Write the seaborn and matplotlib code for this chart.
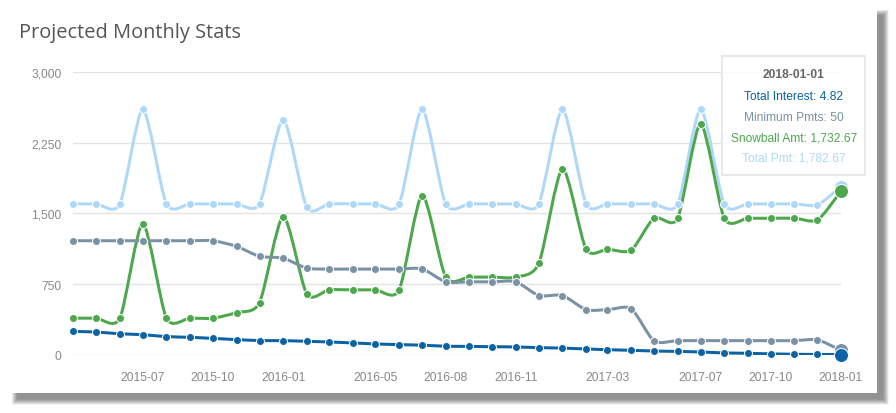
import numpy as np
import pandas as pd
import matplotlib
matplotlib.use("Agg")
import matplotlib.pyplot as plt
import matplotlib.dates as mdates
from matplotlib.path import Path
from matplotlib.patches import PathPatch, Rectangle
import seaborn as sns

# ---------------- data ----------------
months = ["2015-04-01", "2015-05-01", "2015-06-01", "2015-07-01", "2015-08-01", "2015-09-01",
          "2015-10-01", "2015-11-01", "2015-12-01", "2016-01-01", "2016-02-01", "2016-03-01",
          "2016-04-01", "2016-05-01", "2016-06-01", "2016-07-01", "2016-08-01", "2016-09-01",
          "2016-10-01", "2016-11-01", "2016-12-01", "2017-01-01", "2017-02-01", "2017-03-01",
          "2017-04-01", "2017-05-01", "2017-06-01", "2017-07-01", "2017-08-01", "2017-09-01",
          "2017-10-01", "2017-11-01", "2017-12-01", "2018-01-01"]
total_interest = [250, 243, 225, 215, 195, 187, 176, 163, 153, 152, 145, 138, 128, 117, 110, 104, 93,
                  91, 88, 85, 78, 73, 64, 56, 50, 42, 38, 32, 22, 18, 12, 8, 6, 4.82]
minimum_pmts = [1210, 1210, 1210, 1210, 1210, 1210, 1210, 1150, 1045, 1025, 920, 910, 910, 910, 910,
                912, 775, 775, 775, 775, 630, 630, 480, 480, 490, 150, 152, 152, 152, 152, 152, 152,
                160, 50]
snowball_amt = [390, 390, 390, 1390, 390, 390, 390, 450, 555, 1465, 645, 690, 690, 690, 690, 1688,
                825, 825, 825, 825, 970, 1970, 1120, 1120, 1110, 1450, 1448, 2448, 1448, 1448, 1448,
                1448, 1430, 1732.67]
total_pmt = [1600, 1600, 1600, 2600, 1600, 1600, 1600, 1600, 1600, 2490, 1565, 1600, 1600, 1600,
             1600, 2600, 1600, 1600, 1600, 1600, 1600, 2600, 1600, 1600, 1600, 1600, 1600, 2600,
             1600, 1600, 1600, 1600, 1590, 1782.67]
series_names = ["Total Interest", "Minimum Pmts", "Snowball Amt", "Total Pmt"]
series_colors = ["#0b62a4", "#7a92a3", "#4da74d", "#afd8f8"]
x_tick_labels = ["2015-07", "2015-10", "2016-01", "2016-05", "2016-08", "2016-11",
                 "2017-03", "2017-07", "2017-10", "2018-01"]
y_ticks = [0, 750, 1500, 2250, 3000]
title = "Projected Monthly Stats"
hover_label = "2018-01-01"

# ---------------- setup ----------------
W, H = 896, 414
plt.rcParams["font.family"] = ["Liberation Sans", "DejaVu Sans"]
fig = plt.figure(figsize=(W / 100, H / 100), dpi=100)
fig.patch.set_facecolor("white")


def fx(px):
    return px / W


def fy(py):
    return 1 - py / H


# card with shadow
cl, ct, cr, cb = 11, 10, 877, 394
for k in range(12):
    g = k * 0.5
    fig.patches.append(Rectangle((fx(cl + 6 - g), fy(cb + 6 + g)), (cr - cl + 2 * g) / W,
                                 (cb - ct + 2 * g) / H, transform=fig.transFigure,
                                 facecolor="black", edgecolor="none", alpha=0.045, zorder=-3))
fig.patches.append(Rectangle((fx(cl), fy(cb)), (cr - cl) / W, (cb - ct) / H,
                             transform=fig.transFigure, facecolor="white",
                             edgecolor="none", zorder=-2))

fig.text(fx(19), fy(37.7), title, family=["Open Sans", "DejaVu Sans"], fontsize=14.4,
         color="#555555", va="baseline", ha="left")

ax_l, ax_r, ax_t, ax_b = 73.3, 841, 72.7, 356
ax = fig.add_axes([fx(ax_l), fy(ax_b), (ax_r - ax_l) / W, (ax_b - ax_t) / H])
ax.patch.set_alpha(0)
ax.set_zorder(1)

xs = mdates.date2num(pd.to_datetime(months))
df = pd.DataFrame({"x": np.tile(xs, 4),
                   "value": np.concatenate([total_interest, minimum_pmts, snowball_amt, total_pmt]),
                   "series": np.repeat(series_names, len(xs))})


def smooth_path(x, y, bottom):
    # Morris.js smooth line: gradients + cubic bezier control points at 1/4 spacing
    n = len(x)
    grads = []
    for i in range(n):
        if 0 < i < n - 1:
            grads.append((y[i - 1] - y[i + 1]) / (x[i - 1] - x[i + 1]))
        elif i > 0:
            grads.append((y[i - 1] - y[i]) / (x[i - 1] - x[i]))
        else:
            grads.append((y[i] - y[i + 1]) / (x[i] - x[i + 1]))
    verts = [(x[0], y[0])]
    codes = [Path.MOVETO]
    for i in range(1, n):
        ix = (x[i] - x[i - 1]) / 4
        x1 = x[i - 1] + ix
        y1 = max(bottom, y[i - 1] + ix * grads[i - 1])
        x2 = x[i] - ix
        y2 = max(bottom, y[i] - ix * grads[i])
        verts += [(x1, y1), (x2, y2), (x[i], y[i])]
        codes += [Path.CURVE4] * 3
    return Path(verts, codes)


ymin, ymax = y_ticks[0], y_ticks[-1]
lw = 3 * 0.72
order = list(range(len(series_names)))[::-1]
for i in order:
    sub = df[df.series == series_names[i]]
    p = smooth_path(sub.x.values, sub.value.values.astype(float), ymin)
    ax.add_patch(PathPatch(p, facecolor="none", edgecolor=series_colors[i], lw=lw,
                           capstyle="round", joinstyle="round", zorder=2))
for i in order:
    sub = df[df.series == series_names[i]]
    sns.scatterplot(data=sub.iloc[:-1], x="x", y="value", color=series_colors[i], s=5.76 ** 2,
                    edgecolor="white", linewidth=0.72, ax=ax, zorder=3, clip_on=False,
                    legend=False)
    sns.scatterplot(data=sub.iloc[-1:], x="x", y="value", color=series_colors[i], s=10.08 ** 2,
                    edgecolor="white", linewidth=0.72, ax=ax, zorder=3, clip_on=False,
                    legend=False)

ax.set_xlim(xs[0], xs[-1])
ax.set_ylim(ymin, ymax)
ax.set_yticks(y_ticks)
ax.set_yticklabels([f"{v:,}" for v in y_ticks])
ax.set_xticks(mdates.date2num(pd.to_datetime([t + "-01" for t in x_tick_labels])))
ax.set_xticklabels(x_tick_labels)
ax.yaxis.grid(True, color="#e4e4e4", lw=1.0)
ax.xaxis.grid(False)
ax.set_axisbelow(True)
for s in ax.spines.values():
    s.set_visible(False)
ax.tick_params(axis="both", length=0, labelsize=8.64, labelcolor="#888888")
ax.tick_params(axis="y", pad=8.4)
ax.tick_params(axis="x", pad=11.5)
ax.set_xlabel("")
ax.set_ylabel("")

# hover box
bl, bt, br, bb = 722, 57, 865, 176
fig.patches.append(Rectangle((fx(bl), fy(bb)), (br - bl) / W, (bb - bt) / H,
                             transform=fig.transFigure, facecolor=(1, 1, 1, 0.82),
                             edgecolor=(0.9, 0.9, 0.9, 0.9), lw=1.5, zorder=5))
cx = (bl + br) / 2 + 0.5


def fmt(v):
    return f"{v:,.0f}" if float(v).is_integer() else f"{v:,.2f}"


fig.text(fx(cx), fy(75), hover_label, ha="center", va="center", fontsize=8.64,
         fontweight="bold", color="#666666", zorder=6)
vals = [total_interest[-1], minimum_pmts[-1], snowball_amt[-1], total_pmt[-1]]
for k, (nm, v, c) in enumerate(zip(series_names, vals, series_colors)):
    fig.text(fx(cx), fy(97.5 + k * 20.5), f"{nm}: {fmt(v)}", ha="center", va="center",
             fontsize=8.64, color=c, zorder=6)

fig.savefig("out.png", dpi=100, facecolor="white")
